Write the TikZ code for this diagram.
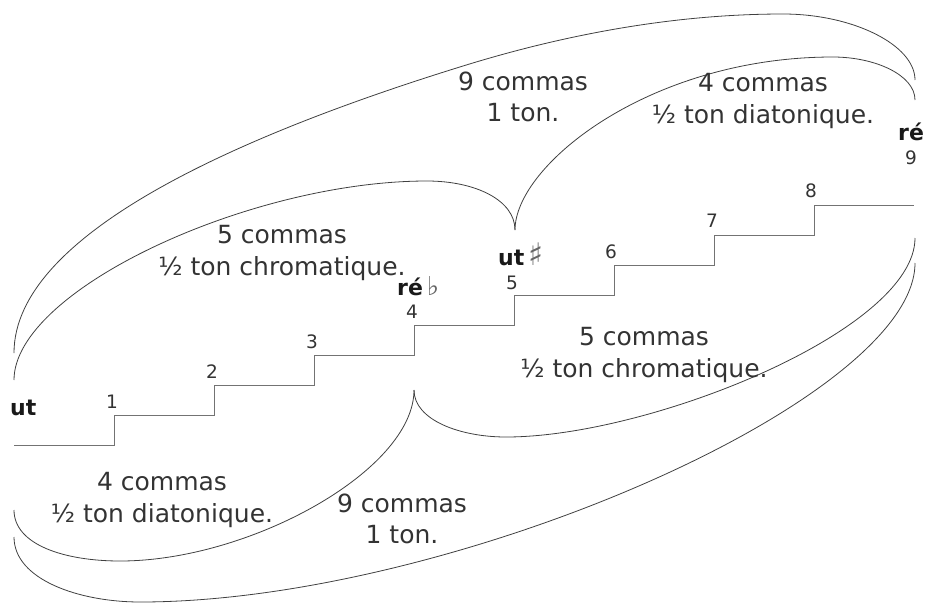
\documentclass[tikz,border=0pt]{standalone}
\usepackage{fontspec}
\setmainfont{DejaVu Sans}
\begin{document}
\begin{tikzpicture}[x=1pt,y=-1pt,
  curve/.style={draw=black!75, line width=0.8pt},
  stair/.style={draw=black!55, line width=0.9pt},
  lbl/.style={text=black!80, font=\fontsize{25}{31.5}\selectfont, align=center, inner sep=0pt},
  num/.style={text=black!80, font=\fontsize{18.5}{20}\selectfont, inner sep=0pt},
  note/.style={text=black!90, font=\bfseries\fontsize{22}{26}\selectfont, inner sep=0pt, anchor=base west},
]
\newcommand\accsign[2]{\hspace{4pt}{\color{black!60}\mdseries\fontsize{#1}{#1}\selectfont #2}}
\useasboundingbox (0,0) rectangle (926,603);

% staircase
\coordinate (s0) at (14,445);
\coordinate (s9) at (914,205);
\draw[stair] (s0) -- (114,445) -- (114,415) -- (214,415) -- (214,385) -- (314,385)
  -- (314,355) -- (414,355) -- (414,325) -- (514,325) -- (514,295) -- (614,295)
  -- (614,265) -- (714,265) -- (714,235) -- (814,235) -- (814,205) -- (s9);

% step numbers
\node[num] (n1) at (112,402) {1};
\node[num] (n2) at (212,372) {2};
\node[num] (n3) at (312,342) {3};
\node[num] (n4) at (412,312) {4};
\node[num] (n5) at (512,283) {5};
\node[num] (n6) at (611,252) {6};
\node[num] (n7) at (712,221) {7};
\node[num] (n8) at (811,191) {8};
\node[num] (n9) at (911,158) {9};

% note names
\node[note] (ut) at (10,415) {ut};
\node[note] (reb) at (397,295) {ré\accsign{26}{♭}};
\node[note] (uts) at (498,265) {ut\accsign{31}{♯}};
\node[note] (re) at (898,140) {ré};

% cusps
\coordinate (cuspT) at (515,230);
\coordinate (cuspB) at (414,390);

% top outer: 9 commas, 1 ton
\draw[curve] (14,353) .. controls (14,233) and (243,134) .. (463,66)
  .. controls (563,35) and (673,14) .. (783,14)
  .. controls (853,14) and (915,45) .. (915,80);
% top inner left: 5 commas chromatique
\draw[curve] (14,380) .. controls (14,290) and (250,181) .. (427,181)
  .. controls (475,181) and (515,200) .. (cuspT);
% top inner right: 4 commas diatonique
\draw[curve] (cuspT) .. controls (515,165) and (650,57) .. (833,57)
  .. controls (875,57) and (915,75) .. (915,100);
% bottom left: 4 commas diatonique
\draw[curve] (14,510) .. controls (14,545) and (65,561) .. (120,561)
  .. controls (250,561) and (414,470) .. (cuspB);
% bottom right inner: 5 commas chromatique
\draw[curve] (cuspB) .. controls (414,420) and (460,437) .. (506,437)
  .. controls (650,437) and (915,330) .. (915,238);
% bottom outer: 9 commas, 1 ton
\draw[curve] (14,537) .. controls (14,580) and (80,602) .. (140,602)
  .. controls (450,602) and (915,400) .. (915,263);

% interval labels
\node[lbl] (t1) at (523,97) {9 commas\\1 ton.};
\node[lbl] (t2) at (763,101) {4 commas\\½ ton diatonique.};
\node[lbl] (t3) at (282,253) {5 commas\\½ ton chromatique.};
\node[lbl] (t4) at (644,355) {5 commas\\½ ton chromatique.};
\node[lbl] (t5) at (162,500) {4 commas\\½ ton diatonique.};
\node[lbl] (t6) at (402,519) {9 commas\\1 ton.};
\end{tikzpicture}
\end{document}
